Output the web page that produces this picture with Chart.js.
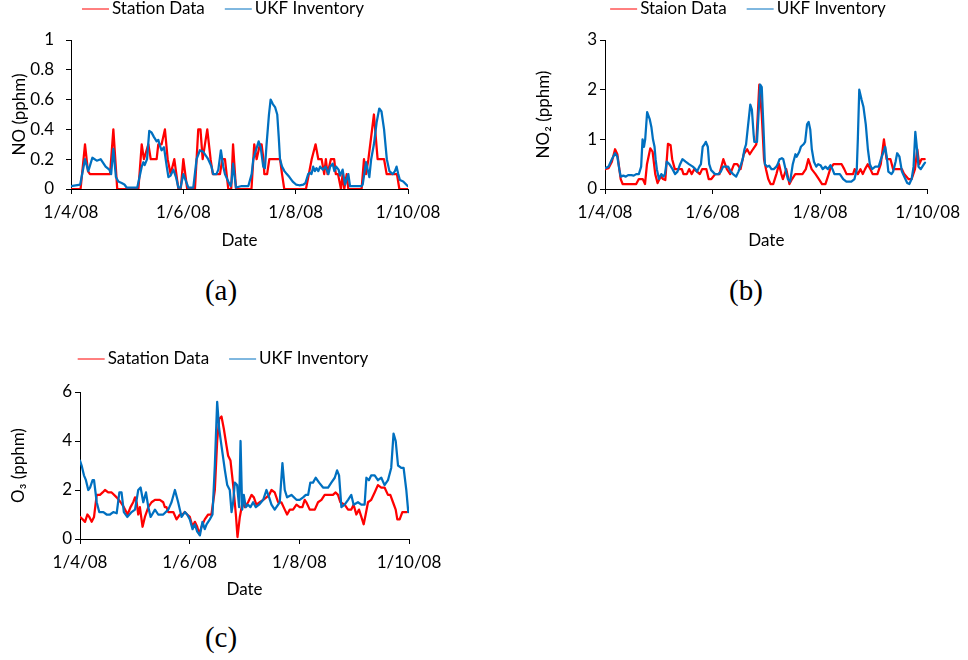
<!DOCTYPE html>
<html>
<head>
<meta charset="utf-8">
<script src="https://cdn.jsdelivr.net/npm/chart.js@4.4.1/dist/chart.umd.min.js"></script>
<style>
  body { margin: 0; background: #fff; }
  #page { position: relative; width: 968px; height: 660px; overflow: hidden; }
  canvas { position: absolute; }
  .cap { position: absolute; width: 80px; text-align: center; line-height: 30px;
         font: 29px "Liberation Serif", serif; color: #000; }
</style>
</head>
<body>
<div id="page">
  <canvas id="chartNO" width="460" height="255" style="left:0;top:0"></canvas>
  <canvas id="chartNO2" width="443" height="255" style="left:525px;top:0"></canvas>
  <canvas id="chartO3" width="460" height="260" style="left:0;top:345px"></canvas>
  <div class="cap" style="left:181px;top:274px">(a)</div>
  <div class="cap" style="left:706px;top:274px">(b)</div>
  <div class="cap" style="left:181px;top:621px">(c)</div>
</div>
<script>
// x axis: days since 1/4/08
const tickDays = [0, 61, 122, 183];
const tickLabels = ["1/4/08", "1/6/08", "1/8/08", "1/10/08"];

// NO (pphm)
const noStationDays = [
  0, 5.2, 7.6, 9.2, 10.3, 21.2, 23, 25.1, 36.6, 38.4,
  39.6, 42, 43.3, 46.5, 47.4, 49.2, 51, 52.5, 54.1, 56.1,
  58.3, 59.6, 61, 63.1, 67.3, 69.1, 70.3, 71.5, 74, 75.8,
  77, 80.9, 82.2, 83.6, 85.4, 87, 88, 89.6, 98, 99.5,
  100.8, 102.6, 103.5, 104.5, 105, 106.5, 107.7, 113.5, 114.6, 115.8,
  127.6, 130.7, 132.8, 134.3, 136.1, 137.5, 138.4, 139.3, 141.1, 142.9,
  143.8, 145, 146.6, 147.5, 148.4, 149.7, 150.6, 157.8, 159.1, 160.2,
  161.5, 164.5, 166.5, 170, 171.4, 177, 178.3, 183];
const noStationVals = [
  0, 0, 0.3, 0.12, 0.1, 0.1, 0.4, 0, 0, 0.3,
  0.2, 0.3, 0.2, 0.2, 0.3, 0.3, 0.4, 0.2, 0.1, 0.2,
  0, 0, 0.2, 0, 0, 0.4, 0.4, 0.2, 0.4, 0.2,
  0.1, 0.1, 0.2, 0.2, 0, 0, 0.3, 0, 0, 0.3,
  0.2, 0.3, 0.3, 0.2, 0.1, 0.1, 0.2, 0.2, 0.1, 0,
  0, 0.2, 0.3, 0.2, 0.2, 0.1, 0.2, 0.1, 0.2, 0.2,
  0.1, 0.1, 0, 0.1, 0, 0.1, 0, 0, 0.2, 0.1,
  0.2, 0.5, 0.2, 0.2, 0.1, 0.1, 0, 0];
const noUkfDays = [
  0, 5, 7.6, 9.4, 11.6, 14, 16.1, 18.8, 20.8, 21.8,
  23, 24.4, 25.7, 27.5, 29, 30.2, 36, 38.4, 39.3, 40,
  41.3, 42.5, 43.7, 45, 46.5, 47.4, 48.3, 49.2, 50.5, 52,
  52.9, 54.1, 55.6, 57, 58.3, 59.5, 61, 63.7, 66.4, 68.2,
  70, 71.8, 74.5, 76.3, 77.2, 79, 80, 81.4, 82.7, 83.6,
  85.4, 86.7, 87.2, 88, 89.6, 92.7, 96.3, 98.1, 99, 100.2,
  101.9, 103, 104.4, 105.3, 106.2, 107.5, 108.4, 109.6, 110.8, 112,
  112.8, 113.5, 114.6, 115.9, 117.2, 118.6, 120.4, 122.2, 124, 126.2,
  127.3, 128.8, 129.7, 130.6, 131.5, 132.4, 133.3, 134.3, 135.3, 136.8,
  138.2, 139.8, 140.7, 142.1, 143, 144, 145.3, 146.1, 147.5, 148.8,
  150.6, 151.5, 157.8, 158.4, 160.2, 161.1, 162, 163, 164.5, 166,
  167.4, 168.6, 170, 171.5, 172.9, 174.7, 175.9, 176.8, 177.7, 178.6,
  180.4, 182.8];
const noUkfVals = [
  0.02, 0.03, 0.2, 0.12, 0.21, 0.19, 0.2, 0.15, 0.13, 0.1,
  0.27, 0.08, 0.05, 0.04, 0.03, 0.01, 0.01, 0.15, 0.18, 0.16,
  0.2, 0.39, 0.38, 0.35, 0.32, 0.33, 0.29, 0.26, 0.28, 0.15,
  0.08, 0.09, 0.13, 0.08, 0.01, 0.01, 0.1, 0.01, 0.01, 0.2,
  0.26, 0.25, 0.2, 0.15, 0.1, 0.1, 0.13, 0.26, 0.15, 0.1,
  0.05, 0.02, 0.05, 0.17, 0.01, 0.02, 0.02, 0.1, 0.2, 0.25,
  0.32, 0.28, 0.15, 0.14, 0.3, 0.5, 0.6, 0.57, 0.55, 0.5,
  0.35, 0.2, 0.15, 0.12, 0.1, 0.08, 0.05, 0.03, 0.025, 0.03,
  0.04, 0.1, 0.11, 0.1, 0.15, 0.12, 0.14, 0.12, 0.15, 0.13,
  0.15, 0.1, 0.15, 0.17, 0.12, 0.15, 0.13, 0.09, 0.13, 0.03,
  0.1, 0.02, 0.02, 0.03, 0.18, 0.13, 0.08, 0.2, 0.3, 0.45,
  0.54, 0.52, 0.4, 0.2, 0.12, 0.1, 0.12, 0.15, 0.1, 0.06,
  0.05, 0.02];

// NO2 (pphm)
const no2StationDays = [
  0, 2, 3.9, 5.7, 7, 8.9, 10, 17.7, 19.2, 21.4,
  22.7, 23.8, 25.7, 27, 28.5, 29.8, 31.6, 32.9, 34.2, 35.7,
  37.2, 38.1, 39.6, 41.8, 43.6, 44.5, 46.4, 47.7, 49.2, 50.6,
  53.8, 55.1, 57.5, 58.8, 60.3, 62.5, 64.9, 67.1, 69.1, 71,
  73.2, 75, 76.9, 78.7, 80.6, 82.1, 83.9, 85.8, 87.5, 88.9,
  90.2, 91.3, 92.6, 93.9, 95.4, 97.2, 98.7, 100, 100.9, 102.8,
  104.6, 106.1, 107.9, 110.2, 112, 113.9, 115.3, 117.2, 119.4, 121.3,
  123.1, 125, 126.4, 127.7, 129.6, 132.3, 134.2, 135.7, 137, 140.7,
  141.6, 143.4, 144.9, 146.2, 147.5, 149, 150.5, 151.8, 154.5, 156.4,
  158.2, 159.7, 161.9, 163.4, 165.6, 168.4, 169.7, 172.1, 173.9, 175.8,
  177.1, 178.2, 179.5, 181.3];
const no2StationVals = [
  0.4, 0.42, 0.55, 0.8, 0.7, 0.2, 0.1, 0.1, 0.2, 0.2,
  0.1, 0.5, 0.82, 0.75, 0.3, 0.12, 0.25, 0.2, 0.18, 0.91,
  0.88, 0.6, 0.4, 0.4, 0.4, 0.3, 0.3, 0.4, 0.3, 0.4,
  0.3, 0.4, 0.4, 0.2, 0.2, 0.3, 0.3, 0.6, 0.4, 0.3,
  0.5, 0.5, 0.4, 0.7, 0.8, 0.7, 0.8, 0.9, 2.1, 1.5,
  0.6, 0.4, 0.2, 0.1, 0.1, 0.3, 0.5, 0.3, 0.2, 0.4,
  0.1, 0.2, 0.3, 0.3, 0.3, 0.4, 0.6, 0.4, 0.3, 0.2,
  0.1, 0.1, 0.25, 0.4, 0.5, 0.5, 0.5, 0.4, 0.3, 0.3,
  0.4, 0.3, 0.4, 0.3, 0.4, 0.5, 0.4, 0.3, 0.3, 0.5,
  1.0, 0.6, 0.6, 0.4, 0.4, 0.4, 0.3, 0.2, 0.2, 0.4,
  0.8, 0.5, 0.6, 0.6];
const no2UkfDays = [
  0, 2, 3.9, 5.7, 7, 8.1, 8.9, 10.4, 11.8, 13.1,
  15, 16.3, 17.7, 19.2, 20.5, 21.3, 22.1, 22.8, 23.9, 25.4,
  26.3, 27.2, 28.1, 28.7, 29.4, 30.6, 31.9, 33.1, 34, 35,
  36.5, 38.3, 39.8, 41.1, 42.6, 43.9, 45.7, 47.6, 49.8, 51.3,
  52.2, 53.5, 54.4, 55.4, 56.5, 57.2, 58.3, 59.1, 60.2, 62.4,
  64.3, 65.7, 67, 69.8, 71.3, 72.6, 74.4, 75.7, 77.2, 78.1,
  79.1, 80, 80.9, 82.4, 83.3, 84.3, 84.7, 86.2, 88, 88.9,
  89.8, 90.7, 92, 93.1, 94.4, 95.7, 97.2, 98, 99, 100.3,
  101.1, 102.4, 103.7, 105, 106.5, 108, 108.7, 110.2, 111.1, 112.6,
  113.5, 114.6, 115.5, 116.4, 117.3, 118.5, 119.8, 120.9, 122.2, 123.5,
  125, 126.4, 127.9, 129, 130.1, 133.2, 135.1, 136.9, 139.7, 141.5,
  142.8, 143.4, 144.2, 145.5, 146.6, 147.9, 149.1, 150.2, 151.5, 153.3,
  155.2, 156.5, 158, 158.9, 159.8, 160.7, 162.5, 163.4, 164.8, 165.7,
  167, 168.4, 169.7, 171.4, 172.6, 173.9, 175, 176, 176.7, 177.8,
  179.1, 180.9, 181.5];
const no2UkfVals = [
  0.42, 0.45, 0.6, 0.72, 0.65, 0.4, 0.25, 0.27, 0.25, 0.28,
  0.28, 0.27, 0.3, 0.3, 0.45, 1.0, 0.85, 1.0, 1.55, 1.4,
  1.25, 1.0, 0.85, 0.6, 0.4, 0.2, 0.3, 0.25, 0.3, 0.55,
  0.5, 0.4, 0.3, 0.35, 0.5, 0.6, 0.55, 0.5, 0.45, 0.4,
  0.35, 0.45, 0.5, 0.85, 0.9, 0.95, 0.85, 0.5, 0.38, 0.3,
  0.3, 0.35, 0.45, 0.45, 0.35, 0.3, 0.25, 0.35, 0.5, 0.6,
  0.8, 0.9, 1.2, 1.7, 1.6, 1.1, 0.95, 0.95, 2.1, 2.05,
  1.3, 0.5, 0.45, 0.47, 0.4, 0.4, 0.45, 0.5, 0.6, 0.62,
  0.6, 0.4, 0.2, 0.15, 0.5, 0.7, 0.65, 0.75, 0.85, 0.9,
  0.95, 1.3, 1.35, 1.2, 0.8, 0.55, 0.45, 0.5, 0.48, 0.4,
  0.45, 0.4, 0.48, 0.4, 0.3, 0.3, 0.2, 0.15, 0.15, 0.2,
  0.4, 1.0, 2.0, 1.8, 1.65, 1.3, 0.8, 0.5, 0.4, 0.45,
  0.45, 0.6, 0.75, 0.85, 0.65, 0.35, 0.3, 0.35, 0.55, 0.72,
  0.65, 0.35, 0.25, 0.12, 0.1, 0.2, 0.45, 1.15, 0.9, 0.45,
  0.4, 0.5, 0.53];

// O3 (pphm)
const o3StationDays = [
  0, 1.5, 2.8, 4.1, 5.2, 6.5, 7.8, 9.3, 11.1, 12.6,
  13.9, 15.7, 17.6, 20.4, 22.6, 24.4, 26.5, 28.1, 29.6, 30.6,
  31.5, 32.4, 33.3, 34.8, 36.1, 38, 39.8, 41.7, 44.4, 46.3,
  47.2, 48.1, 49.1, 51.9, 53.7, 55.6, 57, 58.3, 59.6, 61.1,
  62.6, 63.9, 65.2, 66.3, 67.6, 69.4, 71.3, 73.1, 75, 76.3,
  77.4, 78.7, 80, 81.5, 82.4, 83.7, 85.2, 86.7, 87.6, 88.9,
  90.4, 91.7, 93.5, 95.4, 96.7, 98.1, 100, 101.9, 103.7, 105.2,
  106.5, 108.3, 110.2, 112, 113.9, 115.2, 116.7, 118.5, 120.4, 122.2,
  123.7, 125, 125.9, 127.8, 130.6, 132.4, 134.3, 136.1, 138, 140.7,
  142.2, 143.5, 144.8, 147.2, 149.1, 150.9, 152.2, 153.7, 155.2, 156.5,
  157.8, 158.9, 160.2, 162, 163.9, 165.7, 167.6, 169.4, 171.3, 172.6,
  174.1, 175.6, 176.5, 177.8, 179.3, 180.6, 181.9];
const o3StationVals = [
  0.9, 0.8, 0.7, 1.0, 0.9, 0.7, 0.9, 1.8, 1.8, 1.9,
  2.0, 1.9, 1.9, 1.7, 1.5, 1.3, 1.0, 1.3, 1.5, 1.7,
  1.5, 1.0, 1.3, 0.5, 0.9, 1.3, 1.5, 1.6, 1.6, 1.5,
  1.3, 1.3, 1.1, 1.1, 0.8, 1.0, 1.0, 1.1, 1.0, 0.9,
  0.5, 0.7, 0.5, 0.2, 0.5, 0.8, 1.0, 1.0, 2.0, 4.0,
  4.9, 5.0, 4.5, 3.8, 3.4, 3.2, 2.2, 1.0, 0.08, 0.9,
  1.5, 1.3, 1.5, 1.8, 1.7, 1.4, 1.5, 1.6, 1.7, 1.8,
  2.0, 1.9, 1.5, 1.5, 1.2, 1.0, 1.2, 1.2, 1.4, 1.3,
  1.3, 1.6, 1.5, 1.2, 1.2, 1.5, 1.6, 1.8, 1.8, 1.8,
  1.9, 1.8, 1.5, 1.4, 1.2, 1.2, 1.4, 1.0, 1.2, 0.9,
  0.6, 1.0, 1.5, 1.6, 1.9, 2.2, 2.1, 2.1, 1.8, 1.8,
  1.5, 1.2, 0.8, 0.8, 1.1, 1.1, 1.1];
const o3UkfDays = [
  0, 0.9, 2.2, 3.3, 4.6, 5.6, 7, 7.8, 9.3, 10.7,
  13, 14.8, 16.7, 18.5, 20.4, 21.9, 23.1, 24.4, 26.3, 28.7,
  30.6, 32.4, 33.7, 35.2, 36.7, 38, 39.3, 41.7, 43.5, 46.3,
  49.1, 50.9, 52.8, 54.6, 56.5, 58.3, 59.6, 61.1, 62.6, 63.9,
  65.2, 66.7, 68.1, 69.4, 70.4, 72.2, 73.7, 75, 76.3, 77.4,
  78.7, 80.6, 81.9, 83.3, 84.3, 85.2, 86.1, 87.4, 88.5, 89.3,
  90.2, 91.1, 92.2, 93.5, 94.8, 96.3, 97.8, 99.6, 101.9, 103.7,
  105.2, 106.5, 108.3, 111.1, 112.6, 113.9, 115.2, 117.6, 120.4, 122.2,
  124.1, 125.6, 126.9, 128.1, 129.6, 131.1, 133, 135.2, 138, 139.8,
  141.7, 143, 144.1, 145.4, 147.2, 149.1, 150.9, 152.2, 154.6, 156.5,
  158.3, 159.3, 160.7, 162, 163.9, 165.7, 167.6, 169.4, 171.3, 173.1,
  174.4, 175.6, 176.9, 178.7, 180, 181.5, 182.6];
const o3UkfVals = [
  3.2, 3.0, 2.6, 2.4, 2.0, 2.1, 2.4, 2.4, 1.5, 1.1,
  1.1, 1.0, 1.0, 1.1, 1.05, 1.9, 1.9, 1.1, 0.9, 1.1,
  1.2, 2.0, 2.1, 1.5, 1.9, 1.3, 0.9, 1.2, 1.0, 1.0,
  1.2, 1.5, 2.0, 1.5, 0.9, 1.1, 1.0, 0.8, 0.4, 0.6,
  0.3, 0.15, 0.7, 0.4, 0.6, 0.8, 1.0, 3.0, 5.6, 4.5,
  3.8, 2.8, 2.2, 2.0, 1.1, 1.5, 2.3, 2.2, 1.3, 4.0,
  1.2, 1.8, 1.3, 1.4, 1.3, 1.5, 1.3, 1.4, 1.6, 2.0,
  1.7, 1.4, 1.2, 1.5, 3.1, 2.0, 1.7, 1.8, 1.6, 1.6,
  1.7, 1.8, 1.8, 2.3, 2.3, 2.5, 2.3, 2.1, 2.1, 2.3,
  2.5, 2.8, 2.6, 1.3, 1.4, 1.6, 1.8, 1.4, 1.5, 1.4,
  1.4, 2.5, 2.4, 2.6, 2.6, 2.4, 2.5, 2.2, 2.4, 2.9,
  4.3, 4.0, 3.0, 2.9, 2.9, 2.0, 1.1];

const RED = "#ff0000";
const BLUE = "#0070c0";
const TEXT = "#000";
const FONT = { family: "Lato, 'Liberation Sans', sans-serif", size: 17 };

function toPoints(days, vals) {
  return days.map((d, i) => ({ x: d, y: vals[i] }));
}

// legend drawn as a short line followed by the label, centred on the panel
const lineLegend = {
  id: "lineLegend",
  afterDraw(chart, args, opts) {
    const ctx = chart.ctx;
    const sets = chart.data.datasets;
    ctx.save();
    ctx.font = FONT.size + "px " + FONT.family;
    ctx.textBaseline = "middle";
    ctx.fillStyle = TEXT;
    const widths = sets.map(ds => ctx.measureText(ds.label).width);
    let total = opts.spacing * (sets.length - 1);
    widths.forEach(w => { total += opts.lineLength + opts.gap + w; });
    let x = opts.centerX - total / 2;
    sets.forEach((ds, i) => {
      ctx.strokeStyle = ds.borderColor;
      ctx.lineWidth = ds.borderWidth;
      ctx.beginPath();
      ctx.moveTo(x, opts.y);
      ctx.lineTo(x + opts.lineLength, opts.y);
      ctx.stroke();
      x += opts.lineLength + opts.gap;
      ctx.fillText(ds.label, x, opts.y);
      x += widths[i] + opts.spacing;
    });
    ctx.restore();
  }
};

function makeChart(id, o) {
  return new Chart(document.getElementById(id), {
    type: "line",
    data: {
      datasets: [
        { label: o.names[0], data: toPoints(o.sDays, o.sVals), borderColor: RED, order: 1 },
        { label: o.names[1], data: toPoints(o.uDays, o.uVals), borderColor: BLUE, order: 0 }
      ]
    },
    options: {
      responsive: false,
      animation: false,
      layout: { padding: o.pad },
      elements: {
        line: { borderWidth: 2.25, tension: 0, borderJoinStyle: "round", borderCapStyle: "round", fill: false },
        point: { radius: 0, hoverRadius: 0 }
      },
      plugins: {
        legend: { display: false },
        tooltip: { enabled: false },
        lineLegend: { centerX: 223, y: o.legendY, lineLength: 27, gap: 3, spacing: 20 }
      },
      scales: {
        x: {
          type: "linear",
          min: 0,
          max: 183,
          afterBuildTicks: s => { s.ticks = tickDays.map(v => ({ value: v })); },
          afterFit: s => { s.height = o.xHeight; },
          ticks: {
            callback: v => tickLabels[tickDays.indexOf(v)],
            autoSkip: false, maxRotation: 0, padding: 8, font: FONT, color: TEXT
          },
          grid: { drawOnChartArea: false, tickLength: 5, color: "#000" },
          border: { color: "#000", width: 1 },
          title: { display: true, text: "Date", font: FONT, color: TEXT, padding: { top: 0, bottom: o.dateGap } }
        },
        y: {
          min: 0,
          max: o.yMax,
          afterFit: s => { s.width = o.yWidth; },
          ticks: {
            stepSize: o.yStep, padding: o.yPad, font: FONT, color: TEXT,
            callback: v => String(Number(v.toFixed(1)))
          },
          grid: { drawOnChartArea: false, tickLength: 5, color: "#000" },
          border: { color: "#000", width: 1 },
          title: { display: true, text: o.yTitle, font: FONT, color: TEXT, padding: { top: o.titleGap, bottom: 0 } }
        }
      }
    },
    plugins: [lineLegend]
  });
}

makeChart("chartNO", {
  names: ["Station Data", "UKF Inventory"],
  sDays: noStationDays, sVals: noStationVals, uDays: noUkfDays, uVals: noUkfVals,
  yMax: 1, yStep: 0.2, yTitle: "NO (pphm)", yPad: 12,
  pad: { top: 40, right: 52, bottom: 0, left: 0 },
  yWidth: 71, xHeight: 66, titleGap: 9.5, dateGap: 4, legendY: 9
});

makeChart("chartNO2", {
  names: ["Staion Data", "UKF Inventory"],
  sDays: no2StationDays, sVals: no2StationVals, uDays: no2UkfDays, uVals: no2UkfVals,
  yMax: 3, yStep: 1, yTitle: "NO\u2082 (pphm)", yPad: 3,
  pad: { top: 40, right: 34, bottom: 0, left: 0 },
  yWidth: 80, xHeight: 66, titleGap: 8, dateGap: 4, legendY: 9
});

makeChart("chartO3", {
  names: ["Satation Data", "UKF Inventory"],
  sDays: o3StationDays, sVals: o3StationVals, uDays: o3UkfDays, uVals: o3UkfVals,
  yMax: 6, yStep: 2, yTitle: "O\u2083 (pphm)", yPad: 3,
  pad: { top: 47, right: 51, bottom: 0, left: 0 },
  yWidth: 80, xHeight: 66, titleGap: 8, dateGap: 5, legendY: 14
});
</script>
</body>
</html>
